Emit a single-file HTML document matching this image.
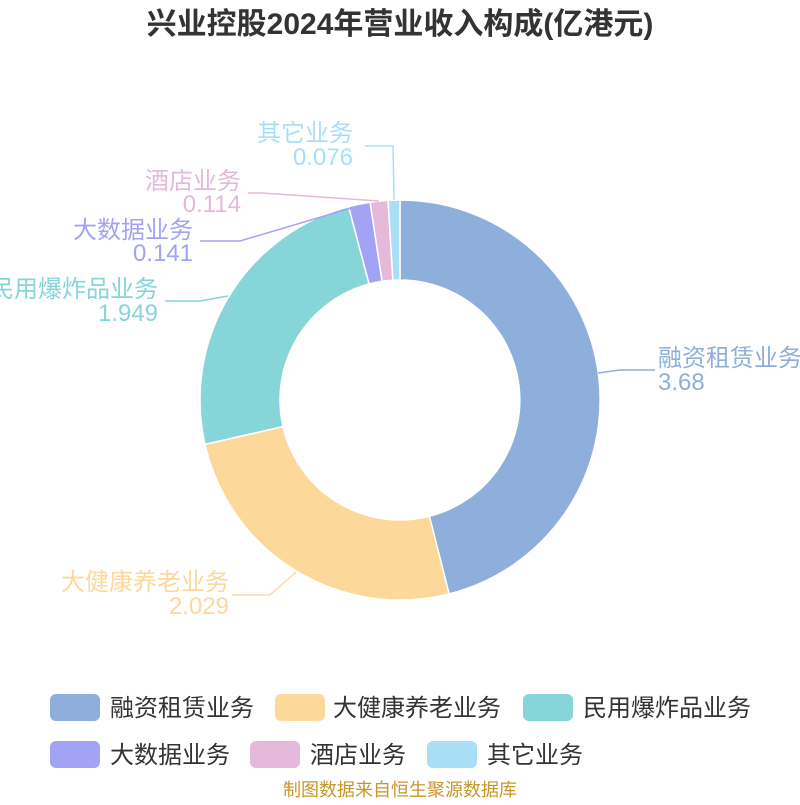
<!DOCTYPE html>
<html><head><meta charset="utf-8"><style>
body{margin:0;background:#fff;}
svg text{font-family:"Liberation Sans","Noto Sans CJK SC",sans-serif;}
</style></head><body>
<svg width="800" height="800" xmlns="http://www.w3.org/2000/svg">
<text x="400" y="34" text-anchor="middle" font-size="30" font-weight="bold" fill="#333">兴业控股2024年营业收入构成(亿港元)</text>
<g stroke="#fff" stroke-width="1.5">
<path d="M400,200 A200,200 0 0 1 449.1,593.9 L429.4,516.3 A120,120 0 0 0 400,280 Z" fill="#8eaedb"/>
<path d="M449.1,593.9 A200,200 0 0 1 205.0,444.3 L283.0,426.6 A120,120 0 0 0 429.4,516.3 Z" fill="#fdd89b"/>
<path d="M205.0,444.3 A200,200 0 0 1 348.6,206.7 L369.1,284.0 A120,120 0 0 0 283.0,426.6 Z" fill="#86d5d8"/>
<path d="M348.6,206.7 A200,200 0 0 1 370.1,202.2 L382.1,281.3 A120,120 0 0 0 369.1,284.0 Z" fill="#a3a3f5"/>
<path d="M370.1,202.2 A200,200 0 0 1 388.1,200.4 L392.9,280.2 A120,120 0 0 0 382.1,281.3 Z" fill="#e5b9d9"/>
<path d="M388.1,200.4 A200,200 0 0 1 400,200 L400,280 A120,120 0 0 0 392.9,280.2 Z" fill="#a8dff7"/>
</g>
<g fill="none" stroke-width="1.5">
<polyline points="598,373 620,370 655,370" stroke="#8eaedb"/>
<polyline points="296,572 270,595 232,595" stroke="#fdd89b"/>
<polyline points="228,296 200,301 165,301" stroke="#86d5d8"/>
<polyline points="358,206 240,241 200,241" stroke="#a3a3f5"/>
<polyline points="379,201 262,193 248,193" stroke="#e5b9d9"/>
<polyline points="394,200 393,146 365,146" stroke="#a8dff7"/>
</g>
<g font-size="24">
<text x="658" y="366" fill="#8eaedb">融资租赁业务</text>
<text x="658" y="390" fill="#8eaedb">3.68</text>
<text x="229" y="590" text-anchor="end" fill="#fdd89b">大健康养老业务</text>
<text x="229" y="614" text-anchor="end" fill="#fdd89b">2.029</text>
<text x="158" y="297" text-anchor="end" fill="#86d5d8">民用爆炸品业务</text>
<text x="158" y="321" text-anchor="end" fill="#86d5d8">1.949</text>
<text x="193" y="238" text-anchor="end" fill="#a3a3f5">大数据业务</text>
<text x="193" y="261" text-anchor="end" fill="#a3a3f5">0.141</text>
<text x="241" y="189" text-anchor="end" fill="#e5b9d9">酒店业务</text>
<text x="241" y="212" text-anchor="end" fill="#e5b9d9">0.114</text>
<text x="353" y="141" text-anchor="end" fill="#a8dff7">其它业务</text>
<text x="353" y="165" text-anchor="end" fill="#a8dff7">0.076</text>
</g>
<g font-size="24" fill="#333">
<rect x="50" y="694" width="50" height="27" rx="6" fill="#8eaedb"/><text x="110" y="716">融资租赁业务</text>
<rect x="275" y="694" width="50" height="27" rx="6" fill="#fdd89b"/><text x="333" y="716">大健康养老业务</text>
<rect x="523" y="694" width="50" height="27" rx="6" fill="#86d5d8"/><text x="583" y="716">民用爆炸品业务</text>
<rect x="50" y="741" width="50" height="27" rx="6" fill="#a3a3f5"/><text x="110" y="763">大数据业务</text>
<rect x="250" y="741" width="50" height="27" rx="6" fill="#e5b9d9"/><text x="310" y="763">酒店业务</text>
<rect x="427" y="741" width="50" height="27" rx="6" fill="#a8dff7"/><text x="487" y="763">其它业务</text>
</g>
<text x="400" y="796" text-anchor="middle" font-size="18" fill="#c8962a">制图数据来自恒生聚源数据库</text>
</svg>
</body></html>
